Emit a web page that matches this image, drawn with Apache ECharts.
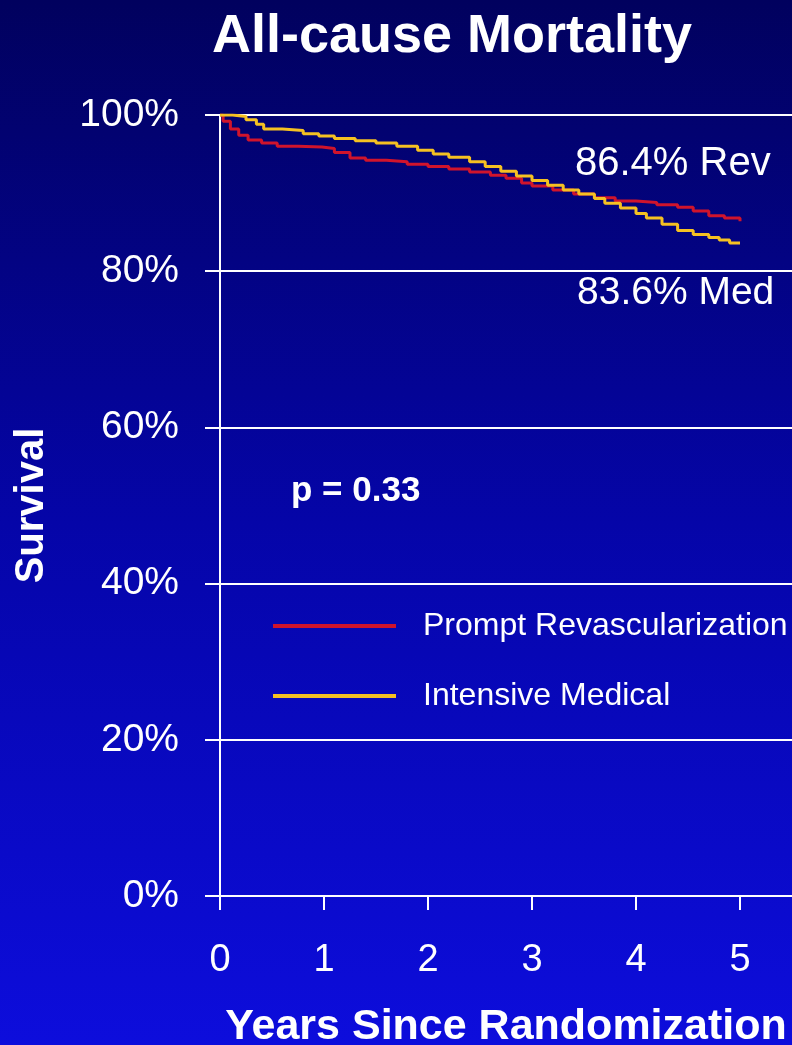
<!DOCTYPE html>
<html>
<head>
<meta charset="utf-8">
<script src="https://cdn.jsdelivr.net/npm/echarts@6/dist/echarts.min.js"></script>
<style>
  html, body { margin: 0; padding: 0; }
  #chart { width: 792px; height: 1045px; }
</style>
</head>
<body>
<div id="chart"></div>
<script>
// ---- data ----
const chartTitle = 'All-cause Mortality';
const xAxisTitle = 'Years Since Randomization';
const yAxisTitle = 'Survival';
const xTickValues = [0, 1, 2, 3, 4, 5];
const yTickValues = [0, 20, 40, 60, 80, 100];
const seriesNames = ['Prompt Revascularization', 'Intensive Medical'];
const annotationRev = '86.4% Rev';
const annotationMed = '83.6% Med';
const pValueText = 'p = 0.33';

// Kaplan-Meier survival, [years, percent]
const revascularization = [
  [0, 100], [0.03, 99.2], [0.1, 98.2], [0.18, 97.4], [0.27, 96.8], [0.4, 96.4],
  [0.55, 96.0], [0.75, 95.9], [0.98, 95.7], [1.1, 95.2], [1.25, 94.5], [1.4, 94.2],
  [1.6, 94.0], [1.8, 93.7], [2.0, 93.4], [2.2, 93.1], [2.4, 92.7], [2.6, 92.3],
  [2.75, 91.9], [2.9, 91.3], [3.0, 90.9], [3.2, 90.4], [3.4, 89.9], [3.6, 89.4],
  [3.8, 89.0], [4.0, 88.8], [4.2, 88.5], [4.4, 88.2], [4.55, 87.7], [4.7, 87.1],
  [4.85, 86.8], [5.0, 86.4]
];
const intensiveMedical = [
  [0, 100], [0.12, 99.8], [0.25, 99.4], [0.35, 98.8], [0.42, 98.2], [0.6, 98.0],
  [0.8, 97.6], [0.95, 97.3], [1.1, 97.0], [1.3, 96.7], [1.5, 96.4], [1.7, 96.0],
  [1.9, 95.5], [2.05, 95.0], [2.2, 94.6], [2.4, 94.0], [2.55, 93.4], [2.7, 92.8],
  [2.85, 92.2], [3.0, 91.6], [3.15, 91.0], [3.3, 90.4], [3.45, 89.9], [3.6, 89.3],
  [3.7, 88.7], [3.85, 88.1], [4.0, 87.4], [4.1, 86.8], [4.25, 86.0], [4.4, 85.2],
  [4.55, 84.7], [4.7, 84.3], [4.8, 84.0], [4.9, 83.6], [5.0, 83.6]
];

const FONT = '"Liberation Sans", Arial, Helvetica, sans-serif';
const RED = '#d0142c';
const YELLOW = '#f5c122';

const chart = echarts.init(document.getElementById('chart'), null, { renderer: 'canvas' });

const option = {
  backgroundColor: {
    type: 'linear', x: 0, y: 0, x2: 0, y2: 1,
    colorStops: [
      { offset: 0, color: '#01015e' },
      { offset: 0.5, color: '#0505a8' },
      { offset: 1, color: '#0d0ddc' }
    ]
  },
  animation: false,
  title: {
    text: chartTitle,
    left: 207,
    top: 5,
    textStyle: { color: '#ffffff', fontFamily: FONT, fontWeight: 'bold', fontSize: 54 }
  },
  legend: {
    orient: 'vertical',
    left: 268,
    top: 605,
    itemWidth: 123,
    itemHeight: 4,
    itemGap: 38,
    icon: 'rect',
    data: seriesNames,
    textStyle: {
      color: '#ffffff', fontFamily: FONT, fontSize: 32, lineHeight: 30,
      padding: [0, 0, 0, 22]
    }
  },
  grid: { left: 220, top: 115, right: 0, bottom: 149, containLabel: false, outerBoundsMode: 'none' },
  xAxis: {
    type: 'value',
    min: 0,
    max: 5.5,
    interval: 1,
    name: xAxisTitle,
    nameLocation: 'middle',
    nameGap: 110,
    nameTextStyle: { color: '#ffffff', fontFamily: FONT, fontWeight: 'bold', fontSize: 43, padding: [0, 0, 0, 0] },
    axisLine: { show: true, lineStyle: { color: '#ffffff', width: 2 } },
    axisTick: { show: true, customValues: xTickValues, length: 14, inside: false, lineStyle: { color: '#ffffff', width: 2 } },
    axisLabel: { customValues: xTickValues, color: '#ffffff', fontFamily: FONT, fontSize: 38, margin: 46 },
    splitLine: { show: false }
  },
  yAxis: {
    type: 'value',
    min: 0,
    max: 100,
    interval: 20,
    name: yAxisTitle,
    nameLocation: 'middle',
    nameRotate: 90,
    nameGap: 168,
    nameTextStyle: { color: '#ffffff', fontFamily: FONT, fontWeight: 'bold', fontSize: 40 },
    axisLine: { show: true, lineStyle: { color: '#ffffff', width: 2 } },
    axisTick: { show: true, length: 15, inside: false, lineStyle: { color: '#ffffff', width: 2 } },
    axisLabel: {
      color: '#ffffff', fontFamily: FONT, fontSize: 39, margin: 41,
      formatter: v => (yTickValues.indexOf(v) >= 0 ? v + '%' : '')
    },
    splitLine: { show: true, lineStyle: { color: '#ffffff', width: 2 } }
  },
  series: [
    {
      name: seriesNames[0],
      type: 'line',
      step: 'end',
      data: revascularization,
      showSymbol: false,
      symbol: 'none',
      color: RED,
      lineStyle: { color: RED, width: 3 },
      z: 3
    },
    {
      name: seriesNames[1],
      type: 'line',
      step: 'end',
      data: intensiveMedical,
      showSymbol: false,
      symbol: 'none',
      color: YELLOW,
      lineStyle: { color: YELLOW, width: 3 },
      z: 4
    }
  ],
  graphic: [
    {
      type: 'text', left: 575, top: 144,
      style: { text: annotationRev, fill: '#ffffff', font: '40px ' + FONT }
    },
    {
      type: 'text', left: 577, top: 274,
      style: { text: annotationMed, fill: '#ffffff', font: '39px ' + FONT }
    },
    {
      type: 'text', left: 291, top: 474,
      style: { text: pValueText, fill: '#ffffff', font: 'bold 35px ' + FONT }
    }
  ]
};

chart.setOption(option);
</script>
</body>
</html>
